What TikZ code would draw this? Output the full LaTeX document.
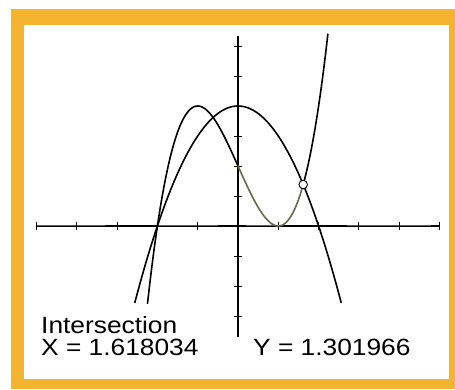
\documentclass[tikz,border=0pt]{standalone}
\usepackage{fontspec}
\newfontfamily\calcfont[FakeStretch=1.12]{Liberation Sans}
\definecolor{frameorange}{RGB}{245,180,48}
\definecolor{axisviolet}{RGB}{150,110,190}
\definecolor{curveolive}{RGB}{105,105,80}
\tikzset{
  curve/.style={line width=1.6pt, line cap=round, black},
  axisline/.style={line width=1.1pt, black},
  tickmark/.style={line width=0.9pt, black},
  readout/.style={font=\calcfont\fontsize{23.5}{23.5}\selectfont, inner sep=0pt, anchor=base west, text height=17pt, text depth=0pt},
}
\begin{document}
\begin{tikzpicture}[x=1pt, y=-1pt]
\useasboundingbox (0,0) rectangle (455,389);
% frame
\fill[frameorange] (11,9) rectangle (455,389);
\fill[white] (24,25) rectangle (449,379);
% graph
\begin{scope}[shift={(238,226)}, x=40.3pt, y=30pt]
  % axes
  \draw[axisline] (-5,0) -- (5,0);
  \draw[axisviolet, line width=0.6pt, opacity=0.7] (-5,0.03) -- (-3.3,0.03);
  \draw[axisviolet, line width=0.6pt, opacity=0.7] (-2,0.03) -- (-0.5,0.03);
  \draw[axisviolet, line width=0.6pt, opacity=0.7] (0.2,0.03) -- (0.9,0.03);
  \draw[axisviolet, line width=0.6pt, opacity=0.7] (2.7,0.03) -- (4.8,0.03);
  \draw[axisline] (0,-3.7) -- (0,6.33);
  \foreach \k in {-5,...,-1,1,2,3,4,5}
    \draw[tickmark] (\k,-0.13) -- (\k,0.13);
  \foreach \k in {-3,...,-1,1,2,...,6}
    \draw[tickmark] (-0.1,\k) -- (0.1,\k);
  % parabola
  \draw[curve] plot[domain=-2.56:2.56, samples=120, smooth] (\x, {4-\x*\x});
  % cubic
  \draw[curve] plot[domain=-2.245:0, samples=80, smooth] (\x, {\x*\x*\x-3*\x+2});
  \draw[curve, curveolive] plot[domain=0:1.6, samples=60, smooth] (\x, {\x*\x*\x-3*\x+2});
  \draw[curve] plot[domain=1.6:2.23, samples=40, smooth] (\x, {\x*\x*\x-3*\x+2});
  % intersection marker
  \node[circle, draw, line width=0.9pt, fill=white, inner sep=0pt, minimum size=8.5pt] (isect) at (1.618,1.382) {};
\end{scope}
% readout
\node[readout] (title) at (41,333.5) {Intersection};
\node[readout] (xval) at (41,355) {X = 1.618034};
\node[readout] (yval) at (253,355) {Y = 1.301966};
\end{tikzpicture}
\end{document}
